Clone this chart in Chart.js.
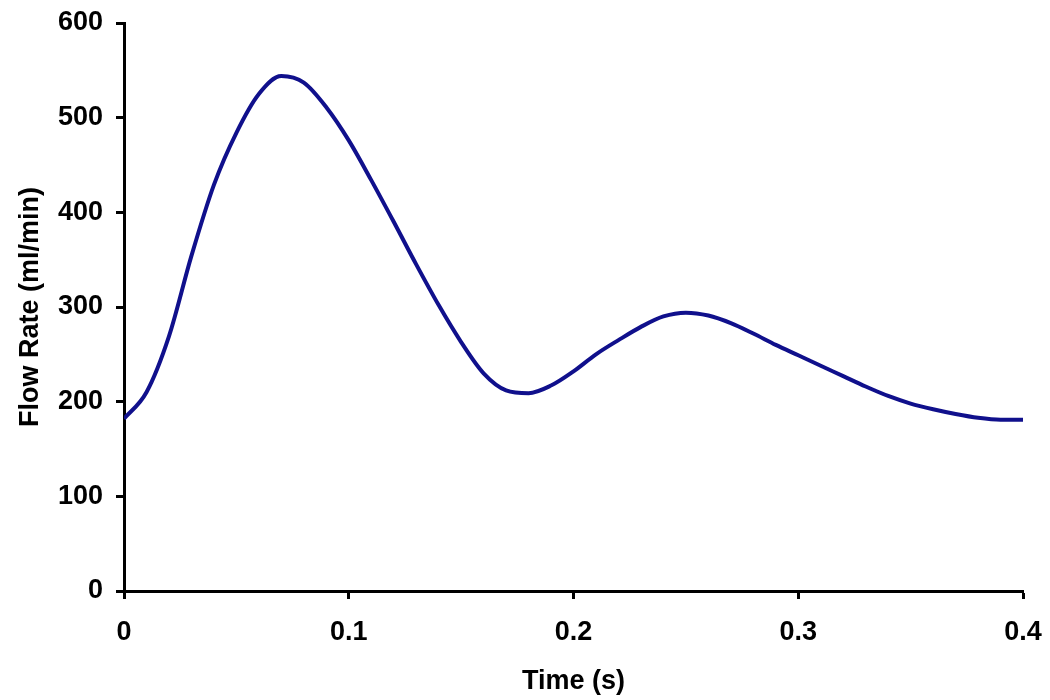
<!DOCTYPE html>
<html>
<head>
<meta charset="utf-8">
<script src="https://cdn.jsdelivr.net/npm/chart.js@4"></script>
<style>
  html, body { margin: 0; padding: 0; background: #fff; }
  #wrap { width: 1050px; height: 700px; }
</style>
</head>
<body>
<div id="wrap"><canvas id="chart" width="1050" height="700"></canvas></div>
<script>
const times = [0, 0.01, 0.02, 0.03, 0.04, 0.05, 0.06, 0.07, 0.08, 0.09,
  0.10, 0.11, 0.12, 0.13, 0.14, 0.15, 0.16, 0.17, 0.18, 0.19,
  0.20, 0.21, 0.22, 0.23, 0.24, 0.25, 0.26, 0.27, 0.28, 0.29,
  0.30, 0.31, 0.32, 0.33, 0.34, 0.35, 0.36, 0.37, 0.38, 0.39, 0.40];
const flowRate = [182, 210, 269, 354, 429, 484, 525, 544, 537, 511,
  476, 434, 390, 345, 302, 263, 230, 212, 209, 217,
  232, 250, 265, 279, 290, 294, 291, 283, 272, 260,
  249, 238, 227, 216, 206, 198, 192, 187, 183, 181, 181];
const xTicks = [0, 0.1, 0.2, 0.3, 0.4];
const yTicks = [0, 100, 200, 300, 400, 500, 600];

const font = { family: "'Liberation Sans', Arial, sans-serif", size: 27, weight: "bold" };

const makechart = () => {
  var options = {
    responsive: false,
    animation: false,
    layout: { padding: { top: 23, right: 27, bottom: 2, left: 14 } },
    plugins: { legend: { display: false }, tooltip: { enabled: false } },
    scales: {
      x: {
        type: "linear",
        min: 0,
        max: 0.4,
        afterBuildTicks: (axis) => { axis.ticks = xTicks.map((v) => ({ value: v })); },
        afterFit: (axis) => {
          axis.height = 700 - 2 - 591;
          axis.paddingLeft = 0;
          axis.paddingRight = 0;
        },
        ticks: { color: "#000", font: font, padding: 17, maxRotation: 0,
          callback: (v) => String(v) },
        grid: { drawOnChartArea: false, drawTicks: true, tickLength: 8, tickWidth: 3, tickColor: "#000" },
        border: { color: "#000", width: 3 },
        title: { display: true, text: "Time (s)", color: "#000", font: font, padding: { top: 9, bottom: 0 } },
      },
      y: {
        min: 0,
        max: 600,
        afterBuildTicks: (axis) => { axis.ticks = yTicks.map((v) => ({ value: v })); },
        afterFit: (axis) => {
          axis.width = 124 - 14;
          axis.paddingTop = 0;
          axis.paddingBottom = 0;
        },
        ticks: { color: "#000", font: font, padding: 13 },
        grid: { drawOnChartArea: false, drawTicks: true, tickLength: 8, tickWidth: 3, tickColor: "#000" },
        border: { color: "#000", width: 3 },
        title: { display: true, text: "Flow Rate (ml/min)", color: "#000", font: font, padding: { top: 0, bottom: 10 } },
      },
    },
  };

  var data = {
    datasets: [
      {
        label: "Flow Rate",
        data: times.map((t, i) => ({ x: t, y: flowRate[i] })),
        borderColor: "#10108c",
        borderWidth: 4,
        pointRadius: 0,
        fill: false,
        cubicInterpolationMode: "monotone",
      },
    ],
  };

  return new Chart("chart", {
    type: "line",
    options: options,
    data: data,
  });
};

makechart();
</script>
</body>
</html>
